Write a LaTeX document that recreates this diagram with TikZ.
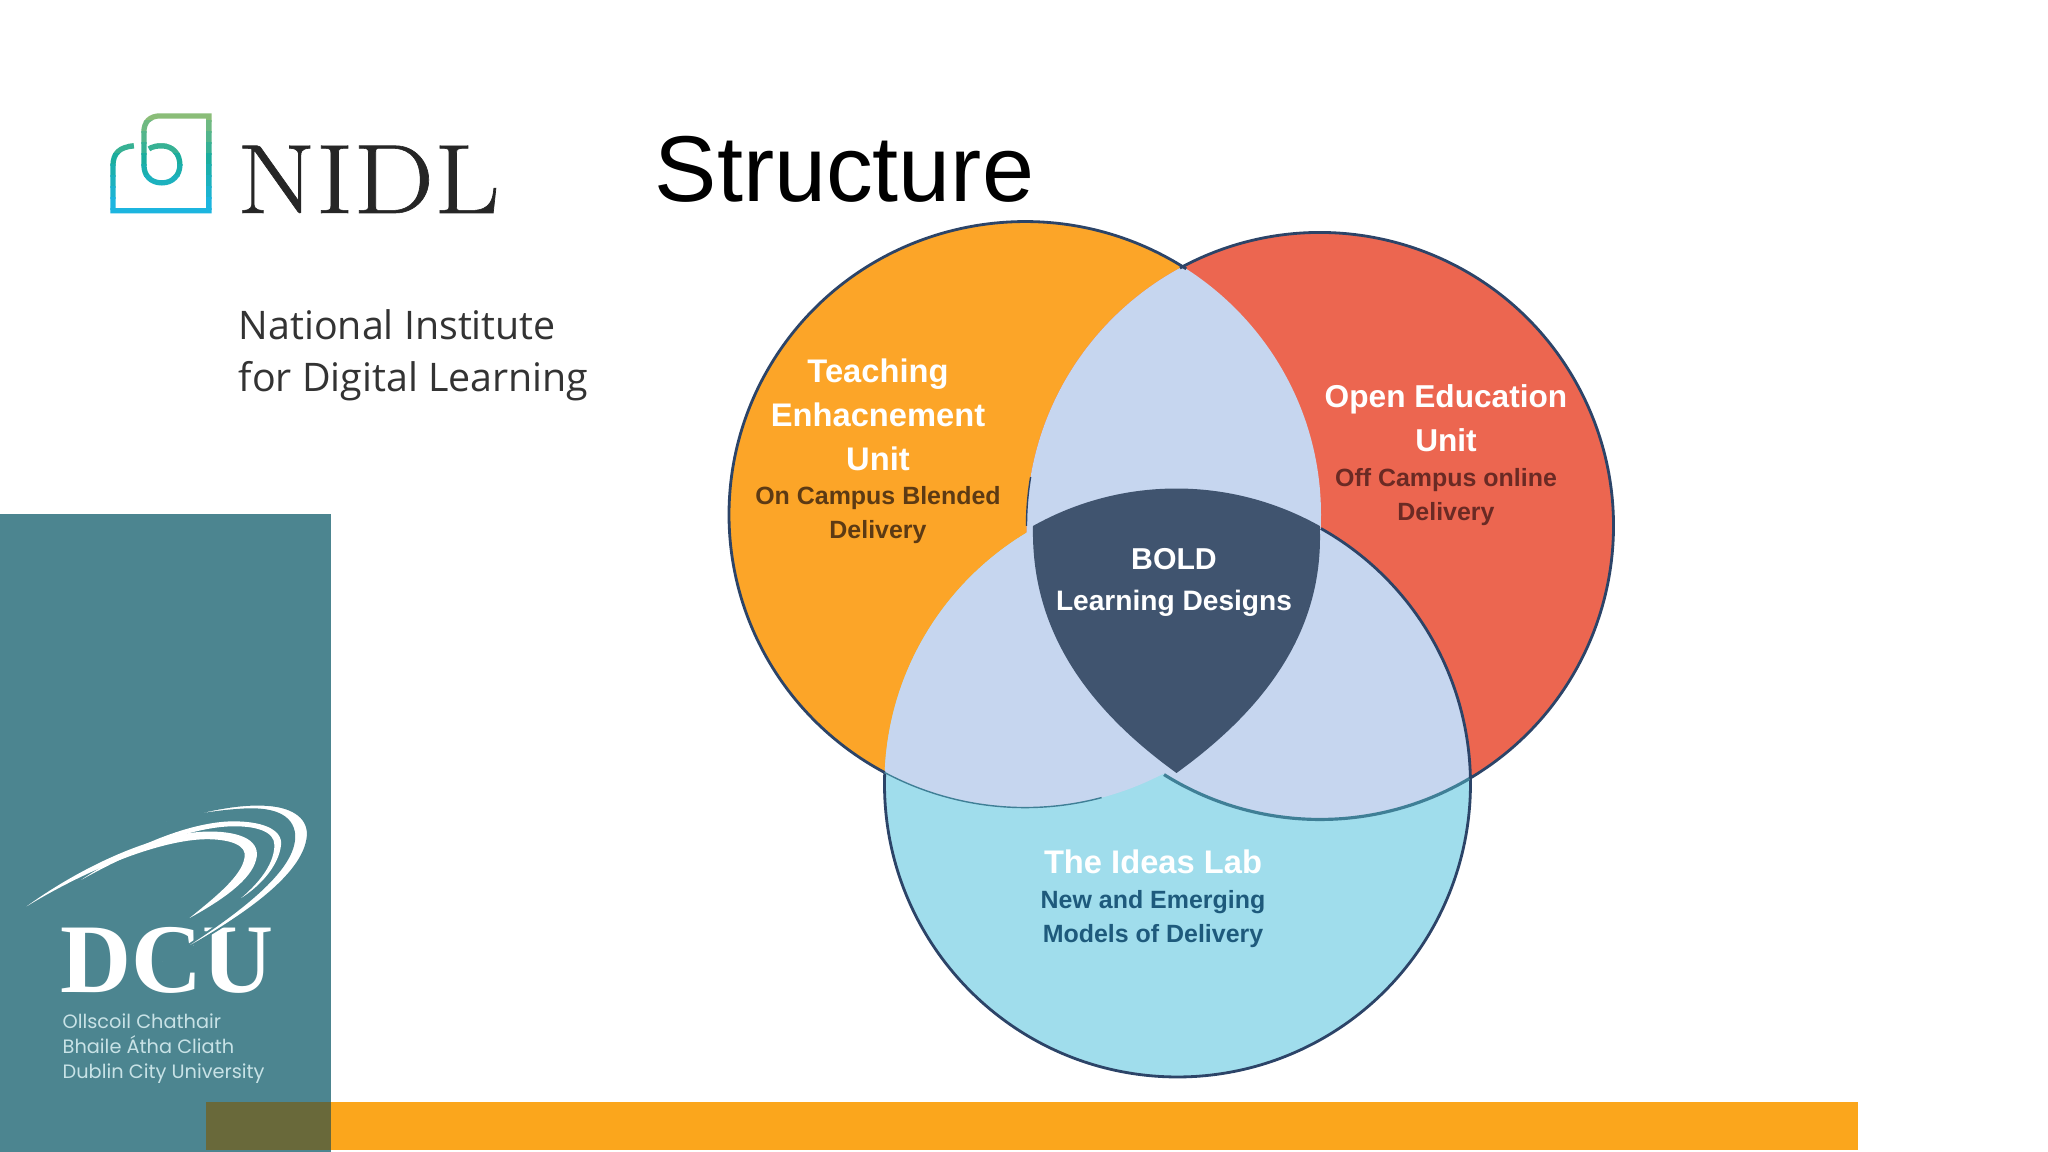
\documentclass[tikz,border=0pt]{standalone}
\usepackage{fontspec}
\setmainfont{Liberation Sans}
\newfontfamily\nidlfont[FakeBold=0.6]{Latin Modern Roman}
\newfontfamily\tagfont{Open Sans}
\newfontfamily\crestfont{Liberation Serif}
\newfontfamily\dcufont{Poppins}
\usetikzlibrary{calc}
\definecolor{slabteal}{HTML}{4C8590}
\definecolor{slabolive}{HTML}{69693A}
\definecolor{baramber}{HTML}{FBA61C}
\definecolor{teachfill}{HTML}{FCA528}
\definecolor{openfill}{HTML}{EC6650}
\definecolor{ideasfill}{HTML}{A0DDEC}
\definecolor{lensfill}{HTML}{C6D6EF}
\definecolor{boldfill}{HTML}{40546F}
\definecolor{rimnavy}{HTML}{2C4468}
\definecolor{rimteal}{HTML}{3F7F96}
\definecolor{teachsub}{HTML}{5C3A14}
\definecolor{opensub}{HTML}{6A2A24}
\definecolor{ideassub}{HTML}{1E5A7C}
\definecolor{dcutext}{HTML}{C8E2E6}
\definecolor{logoTop}{HTML}{8ABD78}
\definecolor{logoMid}{HTML}{1BAD9E}
\definecolor{logoLow}{HTML}{1CB5DF}
\newcommand{\logopath}{(134,146) .. controls (120,147) and (113,153) .. (113,166) -- (113,211) -- (209,211) -- (209,116) -- (160,116) .. controls (150,116) and (144,122) .. (144,132) -- (144,165) .. controls (144,176) and (151,183) .. (162,183) .. controls (173,183) and (180,175) .. (180,165) .. controls (180,154) and (173,146) .. (162,146) .. controls (156,146) and (152,147) .. (149,149)}
\tikzset{
  titlelabel/.style={font=\bfseries\fontsize{9.3}{12.5}\selectfont,text=white,align=center,inner sep=0pt},
  sublabel/.style={font=\bfseries\fontsize{7.1}{9.7}\selectfont,align=center,inner sep=0pt},
  rim/.style={draw=rimnavy,line width=0.8pt},
  rimsoft/.style={draw=rimteal,line width=0.4pt},
  pxgrid/.style={shift={(0,11.52)},x=0.01cm,y=-0.01cm},
  zoomgrid/.style={shift={(0,3.72)},x=0.0033333cm,y=-0.0033333cm}
}
\begin{document}
\begin{tikzpicture}
\useasboundingbox (0,0) rectangle (20.48,11.52);
\fill[white] (0,0) rectangle (20.48,11.52);
\fill[slabteal] (0,0) rectangle (3.31,6.38);
\fill[baramber] (3.31,0.02) rectangle (18.58,0.50);
\fill[slabolive] (2.06,0.02) rectangle (3.31,0.50);
\coordinate (ctrTeach) at (10.25,6.374);
\coordinate (ctrOpen) at (13.20,6.26);
\coordinate (ctrIdeas) at (11.775,3.68);
\fill[teachfill] (ctrTeach) ellipse (2.96 and 2.93);
\fill[openfill] (ctrOpen) circle (2.935);
\fill[ideasfill] (ctrIdeas) circle (2.93);
\begin{scope}
\clip (ctrTeach) ellipse (2.96 and 2.93);
\fill[lensfill] (ctrOpen) circle (2.935);
\fill[lensfill] (ctrIdeas) circle (2.93);
\end{scope}
\begin{scope}
\clip (ctrOpen) circle (2.935);
\fill[lensfill] (ctrIdeas) circle (2.93);
\end{scope}
\fill[boldfill] (10.33,6.26) arc[start angle=119.3,end angle=60.7,radius=2.93]
  .. controls (13.24,5.3) and (12.75,4.5) .. (11.765,3.79)
  .. controls (10.78,4.5) and (10.31,5.3) .. (10.33,6.26) -- cycle;
\draw[rim] ($(ctrTeach)+(57.0:2.96 and 2.93)$) arc[start angle=57.0,end angle=241.7,x radius=2.96,y radius=2.93];
\draw[rim] ($(ctrOpen)+(118.5:2.935)$) arc[start angle=118.5,end angle=-59.4,radius=2.935];
\draw[rim] ($(ctrIdeas)+(177.9:2.93)$) arc[start angle=177.9,end angle=360.8,radius=2.93];
\draw[rim] ($(ctrIdeas)+(60.7:2.93)$) arc[start angle=60.7,end angle=0.8,radius=2.93];
\draw[rimnavy,line width=0.4pt] ($(ctrOpen)+(170.4:2.935)$) arc[start angle=170.4,end angle=180,radius=2.935];
\draw[rimteal,line width=0.9pt] ($(ctrOpen)+(237.9:2.935)$) arc[start angle=237.9,end angle=300.6,radius=2.935];
\draw[rimsoft] ($(ctrTeach)+(241.7:2.96 and 2.93)$) arc[start angle=241.7,end angle=285,x radius=2.96,y radius=2.93];
\node[titlelabel] (teachName) at (8.78,7.37) {Teaching\\Enhacnement\\Unit};
\node[sublabel,text=teachsub] (teachSub) at (8.78,6.365) {On Campus Blended\\Delivery};
\node[titlelabel,font=\bfseries\fontsize{9.0}{12.5}\selectfont] (openName) at (14.46,7.34) {Open Education\\Unit};
\node[sublabel,text=opensub] (openSub) at (14.46,6.545) {Off Campus online\\Delivery};
\node[titlelabel,font=\bfseries\fontsize{8.6}{10}\selectfont] (boldName) at (11.74,5.93) {BOLD};
\node[titlelabel,font=\bfseries\fontsize{8.0}{10}\selectfont] (boldSub) at (11.74,5.485) {Learning Designs};
\node[titlelabel] (ideasName) at (11.53,2.90) {The Ideas Lab};
\node[sublabel,text=ideassub] (ideasSub) at (11.53,2.325) {New and Emerging\\Models of Delivery};
\node[anchor=base west,inner sep=0pt,font=\fontsize{26.6}{30}\selectfont] (pageTitle) at (6.54,9.50) {Structure};
\node[anchor=base west,inner sep=0pt,text=black!85,xscale=1.16,transform shape,font=\nidlfont\fontsize{28}{28}\selectfont] (nidlName) at (2.36,9.39) {NIDL};
\node[anchor=base west,inner sep=0pt,text=black!80,font=\tagfont\fontsize{11.2}{14.8}\selectfont] (nidlLineA) at (2.38,8.12) {National Institute};
\node[anchor=base west,inner sep=0pt,text=black!80,font=\tagfont\fontsize{11.2}{14.8}\selectfont] (nidlLineB) at (2.38,7.60) {for Digital Learning};
\foreach \band/\tone in {0/logoTop,1/logoTop!75!logoMid,2/logoTop!50!logoMid,3/logoTop!25!logoMid,4/logoMid,5/logoMid!75!logoLow,6/logoMid!50!logoLow,7/logoMid!25!logoLow,8/logoLow,9/logoLow} {
  \begin{scope}[pxgrid]
  \clip (100,{110+\band*11}) rectangle (220,{121.5+\band*11});
  \draw[\tone,line width=1.5pt] \logopath;
  \end{scope}
}
\node[anchor=base west,inner sep=0pt,text=white,font=\crestfont\bfseries\fontsize{28}{28}\selectfont] (dcuName) at (0.60,1.59) {DCU};
\begin{scope}[zoomgrid]
\fill[white,draw=slabteal,line width=0.5pt] (500,125) .. controls (620,90) and (720,70) .. (800,75) .. controls (890,80) and (930,120) .. (925,170) .. controls (915,270) and (780,390) .. (490,545) .. controls (720,400) and (890,270) .. (885,165) .. controls (880,105) and (820,85) .. (740,88) .. controls (660,92) and (580,105) .. (500,125) -- cycle;
\fill[white] (245,300) .. controls (370,215) and (540,135) .. (680,125) .. controls (790,120) and (850,150) .. (845,195) .. controls (838,260) and (780,320) .. (725,355) .. controls (790,300) and (825,245) .. (825,195) .. controls (825,155) and (770,135) .. (680,140) .. controls (540,150) and (370,230) .. (245,300) -- cycle;
\fill[white] (80,380) .. controls (260,250) and (480,155) .. (630,155) .. controls (730,155) and (785,185) .. (770,240) .. controls (755,300) and (670,360) .. (570,415) .. controls (650,350) and (725,290) .. (735,235) .. controls (745,195) and (690,178) .. (620,178) .. controls (480,180) and (260,270) .. (80,380) -- cycle;
\end{scope}
\node[anchor=base west,inner sep=0pt,text=dcutext,font=\dcufont\fontsize{5.5}{7}\selectfont] (dcuLineA) at (0.62,1.23) {Ollscoil Chathair};
\node[anchor=base west,inner sep=0pt,text=dcutext,font=\dcufont\fontsize{5.5}{7}\selectfont] (dcuLineB) at (0.62,0.98) {Bhaile Átha Cliath};
\node[anchor=base west,inner sep=0pt,text=dcutext,font=\dcufont\fontsize{5.5}{7}\selectfont] (dcuLineC) at (0.62,0.73) {Dublin City University};
\end{tikzpicture}
\end{document}
